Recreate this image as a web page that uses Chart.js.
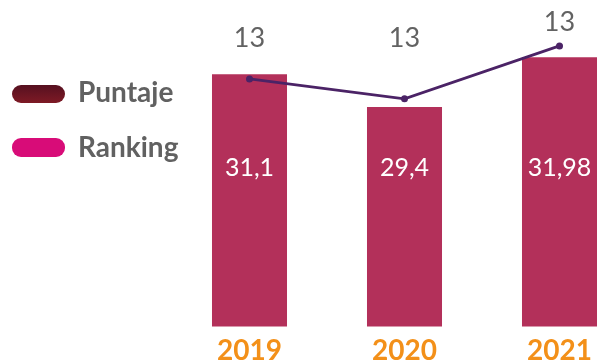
<!DOCTYPE html>
<html>
<head>
<meta charset="utf-8">
<script src="https://cdn.jsdelivr.net/npm/chart.js@4"></script>
<style>
  body { margin: 0; background: #fff; }
  #wrap { position: relative; width: 602px; height: 364px; overflow: hidden; }
  #chart { position: absolute; left: 0; top: 0; }
  .key { position: absolute; left: 12px; width: 53px; height: 18px; border-radius: 9px; }
  .key-text { position: absolute; left: 78px; font: bold 28px Lato, sans-serif; color: #616161; line-height: 28px; }
</style>
</head>
<body>
<div id="wrap">
  <canvas id="chart" width="660" height="376"></canvas>
  <div class="key" style="top:85px; background: linear-gradient(#561020, #7e1a25);"></div>
  <div class="key-text" style="top:77px;">Puntaje</div>
  <div class="key" style="top:138px; height:19px; background:#d80c78;"></div>
  <div class="key-text" style="top:132px;">Ranking</div>
</div>
<script>
'use strict';

// Data
const years = ['2019', '2020', '2021'];
const puntaje = [31.1, 29.4, 31.98];
const ranking = [13.15, 13.0, 13.4];

const barColor = '#b3305a';
const lineColor = '#4b2366';

// Draws the value inside each bar and the ranking above each point
const labelsPlugin = {
    id: 'labelsPlugin',
    afterDatasetsDraw(chart) {
        const ctx = chart.ctx;
        const area = chart.chartArea;
        ctx.save();
        ctx.textAlign = 'center';
        ctx.textBaseline = 'middle';

        // bar values, all on one row
        ctx.font = '25px Lato, sans-serif';
        ctx.fillStyle = '#ffffff';
        chart.getDatasetMeta(1).data.forEach((bar, i) => {
            ctx.fillText(String(puntaje[i]).replace('.', ','), bar.x, area.bottom - 158);
        });

        // ranking labels
        ctx.font = '27px Lato, sans-serif';
        ctx.fillStyle = '#626262';
        chart.getDatasetMeta(0).data.forEach((pt, i) => {
            const y = Math.min(pt.y - 24, area.top + 8);
            ctx.fillText(String(Math.round(ranking[i])), pt.x, y);
        });
        ctx.restore();
    }
};

const ctx = document.getElementById('chart').getContext('2d');
const chart = new Chart(ctx, {
    data: {
        labels: years,
        datasets: [{
            type: 'line',
            label: 'Ranking',
            data: ranking,
            yAxisID: 'y1',
            borderColor: lineColor,
            backgroundColor: lineColor,
            borderWidth: 2.8,
            pointRadius: 3.5,
            pointBackgroundColor: lineColor,
            pointBorderWidth: 0,
            tension: 0,
            order: 0
        }, {
            type: 'bar',
            label: 'Puntaje',
            data: puntaje,
            yAxisID: 'y',
            backgroundColor: barColor,
            barPercentage: 0.484,
            categoryPercentage: 1,
            order: 1
        }]
    },
    options: {
        responsive: false,
        animation: false,
        layout: {
            padding: { left: 172, right: 23, top: 30, bottom: 0 }
        },
        plugins: {
            legend: { display: false },
            tooltip: { enabled: false }
        },
        scales: {
            x: {
                grid: { display: false, drawTicks: false },
                border: { display: false },
                ticks: {
                    color: '#f39019',
                    font: { family: 'Lato', size: 28, weight: 'bold' },
                    padding: 8
                }
            },
            y: {
                display: false,
                min: 18,
                max: 33.4
            },
            y1: {
                display: false,
                min: 11.28,
                max: 13.52
            }
        }
    },
    plugins: [labelsPlugin]
});
</script>
</body>
</html>
